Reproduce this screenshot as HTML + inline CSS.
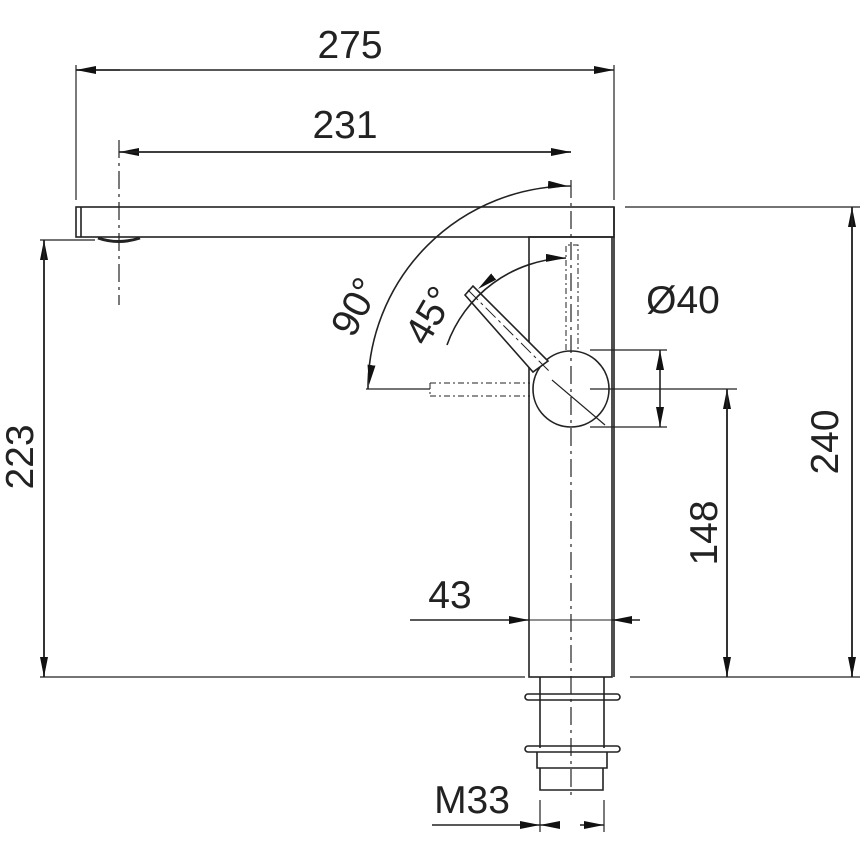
<!DOCTYPE html>
<html><head><style>body{margin:0;background:#fff}svg{display:block}text{font-family:"Liberation Sans",sans-serif;font-size:39px;fill:#222}</style></head><body>
<svg width="860" height="860" viewBox="0 0 860 860" xmlns="http://www.w3.org/2000/svg">
<defs><marker id="a" viewBox="0 0 20 8" refX="20" refY="4" markerWidth="20" markerHeight="8" orient="auto" markerUnits="userSpaceOnUse"><path d="M0,0L20,4L0,8z" fill="#111"/></marker></defs>
<g stroke="#222" stroke-width="1.6" fill="none">
<rect x="76" y="207" width="538" height="30"/><line x1="81" y1="207" x2="81" y2="237"/>
<path d="M98,238 Q118,245 140,238" stroke-width="3"/>
<rect x="529" y="237" width="83" height="440"/><line x1="614" y1="207" x2="614" y2="677"/>
<path d="M540,677V748M604,677V748"/>
<rect x="525" y="694" width="95" height="6" rx="3"/>
<rect x="525" y="746" width="95" height="6" rx="3"/>
<path d="M537,752V768H607V752M540,768V790H603V768"/>
<circle cx="571" cy="389" r="38" fill="#fff"/>
<path d="M465,295L473,286L548,361L533,372Z" fill="#fff"/>
<path d="M468,290L550,372" stroke-dasharray="14,4,3,4" stroke-width="1"/>
<path d="M430,383H530M430,396H530M430,383V396M566,350V245H578V350" stroke-dasharray="6,3,2,3" stroke-width="1"/>
<line x1="571" y1="180" x2="571" y2="800" stroke-dasharray="18,5,3,5" stroke-width="1.2"/>
<line x1="119" y1="140" x2="119" y2="305" stroke-dasharray="18,5,3,5" stroke-width="1.2"/>
<line x1="552" y1="380" x2="605" y2="425" stroke-width="1.2"/>
<path d="M76,65V200M614,65V200M625,207H860M40,677H525M630,677H860M40,240H95M590,389H737M590,350H667M590,427H667M366,389H430M540,800V832M604,800V832" stroke-width="1.2"/>
<line x1="76" y1="70" x2="614" y2="70" marker-end="url(#a)"/><line x1="120" y1="70" x2="76" y2="70" marker-end="url(#a)"/>
<line x1="571" y1="152" x2="119" y2="152" marker-end="url(#a)"/><line x1="119" y1="152" x2="571" y2="152" marker-end="url(#a)"/>
<line x1="852" y1="677" x2="852" y2="207" marker-end="url(#a)"/><line x1="852" y1="207" x2="852" y2="677" marker-end="url(#a)"/>
<line x1="44" y1="677" x2="44" y2="240" marker-end="url(#a)"/><line x1="44" y1="240" x2="44" y2="677" marker-end="url(#a)"/>
<line x1="727" y1="677" x2="727" y2="389" marker-end="url(#a)"/><line x1="727" y1="389" x2="727" y2="677" marker-end="url(#a)"/>
<line x1="660" y1="390" x2="660" y2="350" marker-end="url(#a)"/><line x1="660" y1="390" x2="660" y2="427" marker-end="url(#a)"/>
<line x1="410" y1="620" x2="529" y2="620" marker-end="url(#a)"/><line x1="640" y1="620" x2="612" y2="620" marker-end="url(#a)"/><line x1="529" y1="620" x2="612" y2="620" stroke-width="1"/>
<line x1="432" y1="825" x2="540" y2="825" marker-end="url(#a)"/><line x1="580" y1="825" x2="604" y2="825" marker-end="url(#a)"/><line x1="560" y1="825" x2="540" y2="825" marker-end="url(#a)"/>
<path d="M368,389 A203,203 0 0 1 571,186" />
<path d="M400,300 A203,203 0 0 0 369,385" marker-end="url(#a)" stroke="none"/>
<path d="M480,200 A203,203 0 0 1 568,186" marker-end="url(#a)" stroke="none"/>
<path d="M447,345 A131,131 0 0 1 566,258"/>
<path d="M520,266 A131,131 0 0 1 566,258" marker-end="url(#a)" stroke="none"/>
<path d="M530,264 A131,131 0 0 0 478,289" marker-end="url(#a)" stroke="none"/>
</g>
<text x="350" y="58" text-anchor="middle">275</text>
<text x="345" y="138" text-anchor="middle">231</text>
<text x="683" y="313" text-anchor="middle">Ø40</text>
<text x="450" y="608" text-anchor="middle">43</text>
<text x="472" y="813" text-anchor="middle">M33</text>
<text transform="translate(838,442) rotate(-90)" text-anchor="middle">240</text>
<text transform="translate(33,457) rotate(-90)" text-anchor="middle">223</text>
<text transform="translate(717,533) rotate(-90)" text-anchor="middle">148</text>
<text transform="translate(367,313) rotate(-62)" text-anchor="middle">90°</text>
<text transform="translate(441,322) rotate(-60)" text-anchor="middle">45°</text>
</svg>
</body></html>
